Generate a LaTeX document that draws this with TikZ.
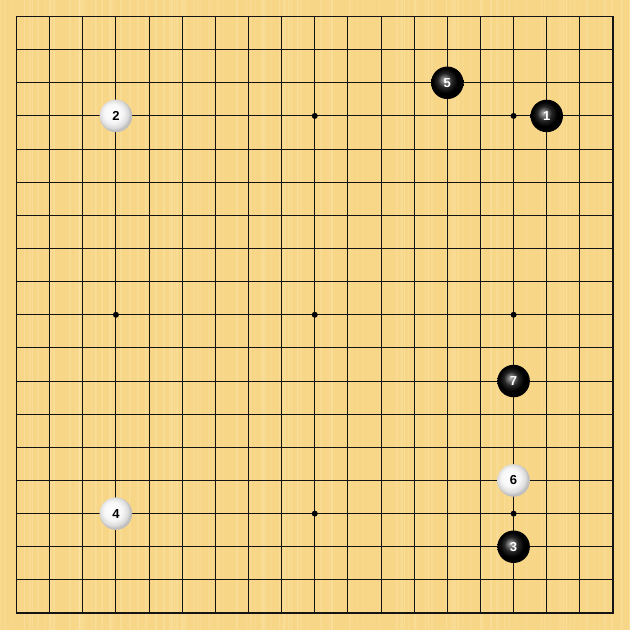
\documentclass[tikz,border=0pt]{standalone}
\usepackage{fontspec}
\setmainfont{Liberation Sans}
\definecolor{board}{RGB}{247,214,136}
\definecolor{stripe}{RGB}{252,228,165}
\definecolor{gridc}{RGB}{20,20,20}
\pgfdeclareradialshading{blackstone}{\pgfpoint{-5bp}{5bp}}{color(0bp)=(black!28);color(5bp)=(black!55);color(11bp)=(black!85);color(19bp)=(black);color(50bp)=(black)}
\pgfdeclareradialshading{whitestone}{\pgfpoint{-6bp}{6bp}}{color(0bp)=(white);color(14bp)=(white!97!black);color(22bp)=(white!86!black);color(25bp)=(white!75!black);color(50bp)=(white!70!black)}
\tikzset{
  gridline/.style={draw=gridc, line width=1.05pt},
  border/.style={draw=gridc, line width=1.5pt},
  hoshi/.style={circle, fill=black, inner sep=0pt, minimum size=6pt},
  bstone/.style={circle, shading=blackstone, inner sep=0pt, minimum size=32.5pt, text=white, font=\bfseries\fontsize{13}{13}\selectfont},
  wstone/.style={circle, shading=whitestone, inner sep=0pt, minimum size=32.5pt, text=black, font=\bfseries\fontsize{13}{13}\selectfont},
}
\begin{document}
\begin{tikzpicture}[x=1pt,y=-1pt]
\useasboundingbox (0,0) rectangle (630,630);
\fill[board] (0,0) rectangle (630,630);
\pgfmathsetseed{7}
\foreach \i in {0,...,160}{
  \pgfmathsetmacro{\xx}{rnd*630}
  \pgfmathsetmacro{\ww}{0.6+rnd*1.4}
  \pgfmathsetmacro{\oo}{0.15+rnd*0.35}
  \fill[stripe, opacity=\oo] (\xx,0) rectangle ++(\ww,630);
}
\def\sp{33.14}
\def\org{16.5}
\foreach \k in {1,...,17}{
  \draw[gridline] (\org+\k*\sp,\org) -- (\org+\k*\sp,\org+18*\sp);
  \draw[gridline] (\org,\org+\k*\sp) -- (\org+18*\sp,\org+\k*\sp);
}
\draw[border] (\org,\org) rectangle (\org+18*\sp,\org+18*\sp);
\foreach \a in {3,9,15}{
  \foreach \b in {3,9,15}{
    \node[hoshi] (h\a-\b) at (\org+\a*\sp,\org+\b*\sp) {};
  }
}
\node[bstone] (s1) at (\org+16*\sp,\org+3*\sp) {1};
\node[wstone] (s2) at (\org+3*\sp,\org+3*\sp) {2};
\node[bstone] (s3) at (\org+15*\sp,\org+16*\sp) {3};
\node[wstone] (s4) at (\org+3*\sp,\org+15*\sp) {4};
\node[bstone] (s5) at (\org+13*\sp,\org+2*\sp) {5};
\node[wstone] (s6) at (\org+15*\sp,\org+14*\sp) {6};
\node[bstone] (s7) at (\org+15*\sp,\org+11*\sp) {7};
\end{tikzpicture}
\end{document}
